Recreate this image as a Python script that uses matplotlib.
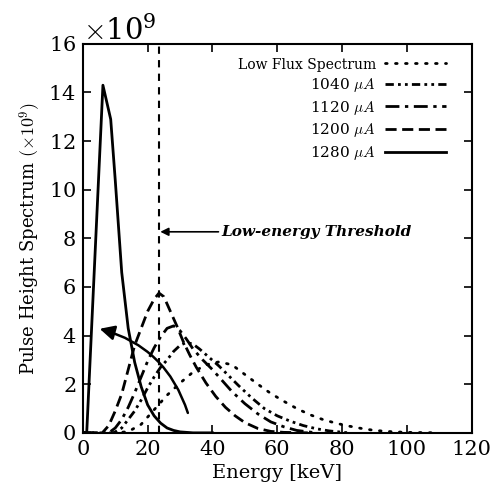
import numpy as np
import matplotlib
matplotlib.use("Agg")
import matplotlib.pyplot as plt
from matplotlib.ticker import ScalarFormatter

plt.rcParams['font.family'] = ['DejaVu Serif']
plt.rcParams['mathtext.fontset'] = 'cm'

# spectra, values in units of 1e9
e_1280 = [0, 1.2, 6.2, 8.6, 10, 12, 14, 16, 18, 20, 22, 24, 26, 28, 30, 34, 40]
y_1280 = [0, 0, 14.3, 12.9, 10.4, 6.6, 4.3, 2.9, 1.9, 1.15, 0.7, 0.4, 0.2, 0.1, 0.04, 0, 0]

e_1200 = [0, 6, 8, 10, 12, 14, 16, 18, 20, 22, 23.5, 25, 27, 29, 31, 33, 35, 38, 41, 44, 47, 50, 54, 58, 62, 70]
y_1200 = [0, 0, 0.3, 0.9, 1.6, 2.6, 3.6, 4.3, 5.0, 5.5, 5.75, 5.6, 5.0, 4.4, 3.75, 3.2, 2.7, 2.05, 1.5, 1.05, 0.7, 0.42, 0.18, 0.06, 0.02, 0]

e_1120 = [0, 8, 10, 12, 14, 16, 18, 20, 22, 24, 26, 28, 30, 32, 34, 37, 40, 43, 46, 50, 54, 58, 62, 66, 72]
y_1120 = [0, 0, 0.2, 0.55, 1.05, 1.65, 2.3, 2.95, 3.5, 3.95, 4.3, 4.4, 4.2, 3.85, 3.45, 3.0, 2.6, 2.15, 1.7, 1.2, 0.78, 0.45, 0.25, 0.1, 0]

e_1040 = [0, 9.5, 12, 14, 16, 18, 20, 22, 24, 26, 28, 30, 32, 34, 36, 39, 42, 45, 48, 52, 56, 60, 64, 68, 72, 76, 82]
y_1040 = [0, 0, 0.2, 0.55, 0.9, 1.35, 1.85, 2.3, 2.7, 3.0, 3.35, 3.6, 3.72, 3.65, 3.45, 3.1, 2.75, 2.35, 1.95, 1.45, 1.0, 0.7, 0.48, 0.3, 0.17, 0.08, 0]

e_low = [0, 10, 14, 18, 22, 26, 30, 34, 38, 42, 46, 50, 54, 58, 62, 66, 70, 74, 78, 82, 86, 90, 95, 100, 110]
y_low = [0, 0, 0.05, 0.35, 0.95, 1.55, 2.05, 2.5, 2.8, 2.92, 2.8, 2.4, 2.0, 1.62, 1.3, 1.0, 0.75, 0.55, 0.4, 0.28, 0.18, 0.1, 0.05, 0.02, 0]

threshold = 23.5
scale = 1e9


class FixedExp(ScalarFormatter):
    def _set_order_of_magnitude(self):
        self.orderOfMagnitude = 9


fig = plt.figure(figsize=(4.93, 4.93), dpi=100)
ax = fig.add_axes([0.168, 0.122, 0.789, 0.789])

lw = 2.0
ax.plot(np.array(e_low), np.array(y_low) * scale, color='k', lw=lw,
        linestyle=(0, (0.6, 3)), dash_capstyle='round', label='Low Flux Spectrum')
ax.plot(np.array(e_1040), np.array(y_1040) * scale, color='k', lw=lw,
        linestyle=(0, (3, 1.5, 1, 1.5, 1, 1.5)), label=r'1040 $\mu A$')
ax.plot(np.array(e_1120), np.array(y_1120) * scale, color='k', lw=lw,
        linestyle=(0, (5, 2, 1.2, 2)), label=r'1120 $\mu A$')
ax.plot(np.array(e_1200), np.array(y_1200) * scale, color='k', lw=lw,
        linestyle=(0, (4, 2)), label=r'1200 $\mu A$')
ax.plot(np.array(e_1280), np.array(y_1280) * scale, color='k', lw=lw,
        linestyle='-', label=r'1280 $\mu A$')

ax.axvline(threshold, color='k', lw=1.5, linestyle=(0, (3.5, 3)))

ax.annotate('Low-energy Threshold', xy=(threshold + 0.4, 8.27 * scale),
            xytext=(42.7, 8.27 * scale), fontsize=11, fontweight='bold',
            fontstyle='italic', va='center', ha='left',
            arrowprops=dict(arrowstyle='-|>', color='k', lw=1.2,
                            mutation_scale=12, shrinkA=0, shrinkB=0))

ax.annotate('', xy=(5.2, 4.28 * scale), xytext=(32.4, 0.82 * scale),
            arrowprops=dict(arrowstyle='-|>', color='k', lw=1.8,
                            mutation_scale=22, shrinkA=0, shrinkB=0,
                            connectionstyle='arc3,rad=0.27'))

ax.set_xlim(0, 120)
ax.set_ylim(0, 16 * scale)
ax.set_xticks(np.arange(0, 121, 20))
ax.set_yticks(np.arange(0, 17, 2) * scale)

fmt = FixedExp(useMathText=True)
ax.yaxis.set_major_formatter(fmt)
ax.yaxis.get_offset_text().set_fontsize(21)

ax.tick_params(direction='in', length=6, width=1.2, top=True, right=True,
               labelsize=15, pad=5)
for s in ax.spines.values():
    s.set_linewidth(1.5)

ax.set_xlabel('Energy [keV]', fontsize=14)
ax.set_ylabel(r'Pulse Height Spectrum $(\times 10^9)$', fontsize=13)

leg = ax.legend(loc='upper right', frameon=False, markerfirst=False,
                fontsize=11, handlelength=4.0, labelspacing=0.3,
                borderaxespad=0.5, bbox_to_anchor=(0.97, 1.0),
                handletextpad=0.6)
for t in leg.get_texts():
    t.set_ha('right')
leg.get_texts()[0].set_fontsize(10)

fig.savefig('out.png', dpi=100)
